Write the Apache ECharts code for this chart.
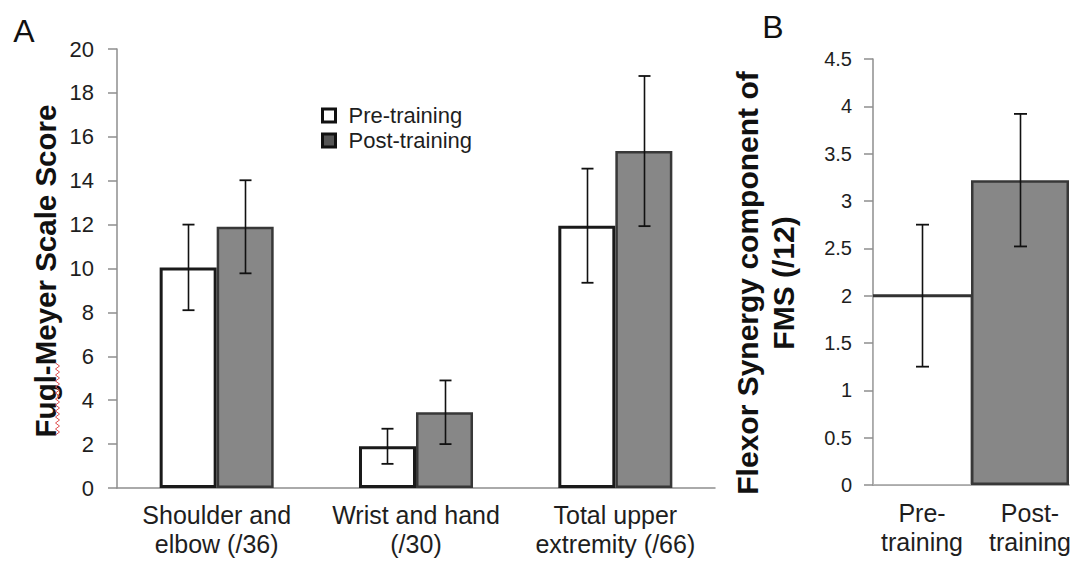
<!DOCTYPE html>
<html>
<head>
<meta charset="utf-8">
<script src="https://cdn.jsdelivr.net/npm/echarts@6/dist/echarts.min.js"></script>
<style>
html,body{margin:0;padding:0;background:#fff;}
#chart{width:1076px;height:561px;}
</style>
</head>
<body>
<div id="chart"></div>
<script>
// ---- Data ----
const catsA = ['Shoulder and\nelbow (/36)', 'Wrist and hand\n(/30)', 'Total upper\nextremity (/66)'];
const preA = [10.05, 1.9, 11.95];
const preErrA = [1.95, 0.8, 2.6];
const postA = [11.9, 3.45, 15.35];
const postErrA = [2.12, 1.45, 3.42];
const seriesNames = ['Pre-training', 'Post-training'];
const catsB = ['Pre-\ntraining', 'Post-\ntraining'];
const valsB = [2.0, 3.22];
const errB = [0.75, 0.7];
const titleA = 'Fugl-Meyer Scale Score';
const titleB = 'Flexor Synergy component of\nFMS (/12)';

const BAR_FRAC = 0.286;
const AXIS_GRAY = '#8e8e8e';
const GRAY_FILL = '#878787';
const FONT = "'Liberation Sans', Arial, sans-serif";
const NARROW = "'Liberation Sans Narrow', 'Arial Narrow', 'Liberation Sans', sans-serif";

function errRender(sign, capHalf, fracW) {
  return function (params, api) {
    const c = api.value(0), v = api.value(1), e = api.value(2);
    const bw = api.size([1, 0])[0];
    const off = sign * bw * fracW / 2;
    const top = api.coord([c, v + e]);
    const bot = api.coord([c, v - e]);
    const x = Math.round(top[0] + off) + 0.5;
    return {
      type: 'group',
      children: [
        {type: 'line', shape: {x1: x, y1: top[1], x2: x, y2: bot[1]}, style: {stroke: '#111', lineWidth: 1.6}},
        {type: 'line', shape: {x1: x - capHalf, y1: top[1], x2: x + capHalf, y2: top[1]}, style: {stroke: '#111', lineWidth: 1.8}},
        {type: 'line', shape: {x1: x - capHalf, y1: bot[1], x2: x + capHalf, y2: bot[1]}, style: {stroke: '#111', lineWidth: 1.8}}
      ]
    };
  };
}

function topEdgeRender(params, api) {
  const c = api.value(0), v = api.value(1);
  const bw = api.size([1, 0])[0];
  const p = api.coord([c, v]);
  return {type: 'line', shape: {x1: p[0] - bw / 2, y1: p[1], x2: p[0] + bw / 2, y2: p[1]},
          style: {stroke: '#333', lineWidth: 3}};
}

// zigzag spell-check underline (decoration)
const squig = [];
for (let i = 0, y = 363; y <= 435; y += 3, i++) squig.push([i % 2 ? 59.5 : 55.5, y]);

const chart = echarts.init(document.getElementById('chart'), null, {renderer: 'svg'});

chart.setOption({
  animation: false,
  backgroundColor: '#fff',
  textStyle: {fontFamily: FONT},
  grid: [
    {left: 117, top: 49, width: 598, height: 439},
    {left: 873, top: 59, width: 196, height: 426}
  ],
  legend: {
    orient: 'vertical',
    left: 316, top: 99,
    itemWidth: 13, itemHeight: 13, itemGap: 2,
    icon: 'rect',
    textStyle: {fontSize: 22, lineHeight: 23, color: '#1e1e1e', fontFamily: FONT, padding: [0, 0, 0, 8]},
    data: [
      {name: seriesNames[0], itemStyle: {color: '#fff', borderColor: '#111', borderWidth: 3}},
      {name: seriesNames[1], itemStyle: {color: '#555', borderColor: '#111', borderWidth: 3}}
    ]
  },
  xAxis: [
    {
      type: 'category', gridIndex: 0, data: catsA,
      axisLine: {lineStyle: {color: AXIS_GRAY, width: 1.5}},
      axisTick: {length: 8, lineStyle: {color: AXIS_GRAY, width: 1.5}},
      axisLabel: {interval: 0, fontSize: 25, lineHeight: 29, color: '#1e1e1e', margin: 12, fontFamily: FONT}
    },
    {
      type: 'category', gridIndex: 1,
      data: [catsB[0], {value: catsB[1], textStyle: {padding: [0, 0, 0, 20]}}],
      axisLine: {lineStyle: {color: AXIS_GRAY, width: 1.5}},
      axisTick: {length: 8, lineStyle: {color: AXIS_GRAY, width: 1.5}},
      axisLabel: {interval: 0, fontSize: 25, lineHeight: 29, color: '#1e1e1e', margin: 13, fontFamily: FONT}
    }
  ],
  yAxis: [
    {
      type: 'value', gridIndex: 0, min: 0, max: 20, interval: 2,
      axisLine: {show: true, lineStyle: {color: AXIS_GRAY, width: 1.5}},
      axisTick: {show: true, length: 9, lineStyle: {color: AXIS_GRAY, width: 1.5}},
      splitLine: {show: false},
      axisLabel: {margin: 23, fontSize: 22, color: '#1e1e1e', fontFamily: FONT}
    },
    {
      type: 'value', gridIndex: 1, min: 0, max: 4.5, interval: 0.5,
      axisLine: {show: true, lineStyle: {color: AXIS_GRAY, width: 1.5}},
      axisTick: {show: true, length: 9, lineStyle: {color: AXIS_GRAY, width: 1.5}},
      splitLine: {show: false},
      axisLabel: {fontSize: 20, color: '#1e1e1e', fontFamily: NARROW, margin: 21}
    }
  ],
  series: [
    {
      name: seriesNames[0], type: 'bar', xAxisIndex: 0, yAxisIndex: 0,
      data: preA, barWidth: (BAR_FRAC * 100) + '%', barGap: '0%',
      itemStyle: {color: '#fff', borderColor: '#1a1a1a', borderWidth: 3}
    },
    {
      name: seriesNames[1], type: 'bar', xAxisIndex: 0, yAxisIndex: 0,
      data: postA, barWidth: (BAR_FRAC * 100) + '%', barGap: '0%',
      itemStyle: {color: GRAY_FILL, borderColor: '#383838', borderWidth: 2.5}
    },
    {
      type: 'custom', xAxisIndex: 0, yAxisIndex: 0, z: 10,
      renderItem: errRender(-1, 6, BAR_FRAC),
      data: preA.map((v, i) => [i, v, preErrA[i]])
    },
    {
      type: 'custom', xAxisIndex: 0, yAxisIndex: 0, z: 10,
      renderItem: errRender(1, 6, BAR_FRAC),
      data: postA.map((v, i) => [i, v, postErrA[i]])
    },
    {
      type: 'bar', xAxisIndex: 1, yAxisIndex: 1, barWidth: '100%', barCategoryGap: '0%',
      data: [
        {value: valsB[0], itemStyle: {color: '#fff', borderColor: '#b5b5b5', borderWidth: 1}},
        {value: valsB[1], itemStyle: {color: GRAY_FILL, borderColor: '#383838', borderWidth: 2.5}}
      ]
    },
    {
      type: 'custom', xAxisIndex: 1, yAxisIndex: 1, z: 9,
      renderItem: topEdgeRender,
      data: [[0, valsB[0]]]
    },
    {
      type: 'custom', xAxisIndex: 1, yAxisIndex: 1, z: 10,
      renderItem: errRender(0, 6.5, 0),
      data: valsB.map((v, i) => [i, v, errB[i]])
    }
  ],
  graphic: [
    {type: 'text', x: 24, y: 31, style: {text: 'A', fontSize: 32, fontFamily: FONT, fill: '#111',
      align: 'center', verticalAlign: 'middle', textAlign: 'center', textVerticalAlign: 'middle'}},
    {type: 'text', x: 773, y: 27, style: {text: 'B', fontSize: 32, fontFamily: FONT, fill: '#111',
      align: 'center', verticalAlign: 'middle', textAlign: 'center', textVerticalAlign: 'middle'}},
    {type: 'text', x: 45, y: 271, rotation: Math.PI / 2, style: {text: titleA, fontSize: 29.5, fontWeight: 'bold',
      fontFamily: FONT, fill: '#111', align: 'center', verticalAlign: 'middle', textAlign: 'center', textVerticalAlign: 'middle'}},
    {type: 'text', x: 765, y: 283, rotation: Math.PI / 2, style: {text: titleB, fontSize: 30, fontWeight: 'bold',
      lineHeight: 36, fontFamily: FONT, fill: '#111', align: 'center', verticalAlign: 'middle', textAlign: 'center', textVerticalAlign: 'middle'}},
    {type: 'polyline', shape: {points: squig}, style: {stroke: '#e0504f', lineWidth: 1, fill: null}, z: 20}
  ]
});
</script>
</body>
</html>
